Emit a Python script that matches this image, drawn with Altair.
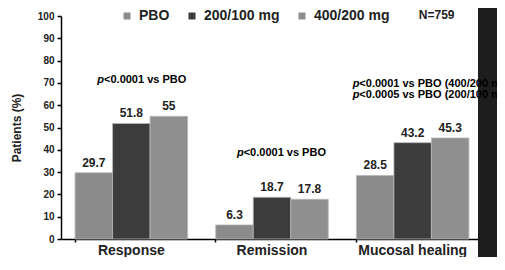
import altair as alt
import pandas as pd

categories = ["Response", "Remission", "Mucosal healing"]
groups = ["PBO", "200/100 mg", "400/200 mg"]
pbo = [29.7, 6.3, 28.5]
dose_200_100 = [51.8, 18.7, 43.2]
dose_400_200 = [55, 17.8, 45.3]
y_ticks = [0, 10, 20, 30, 40, 50, 60, 70, 80, 90, 100]
colors = ["#8b8b8b", "#3c3c3c", "#8f8f8f"]

ann_cat = ["Response", "Remission", "Mucosal healing", "Mucosal healing"]
ann_val = [71.3, 38.6, 69.7, 64.6]
ann_text = ["<0.0001 vs PBO", "<0.0001 vs PBO",
            "<0.0001 vs PBO (400/200 mg)", "<0.0005 vs PBO (200/100 mg)"]
ann_dx = [-34, -35, -60, -60]

rows = []
for i, c in enumerate(categories):
    for g, series in zip(groups, [pbo, dose_200_100, dose_400_200]):
        v = series[i]
        rows.append({"cat": c, "grp": g, "val": v, "label": f"{v:g}"})
df = pd.DataFrame(rows)

FONT = "Liberation Sans"

x_enc = alt.X("cat:N", sort=categories, title=None,
              scale=alt.Scale(paddingInner=0.2, paddingOuter=0.1))
y_enc = alt.Y("val:Q", title="Patients (%)",
              scale=alt.Scale(domain=[0, 100], nice=False),
              axis=alt.Axis(values=y_ticks))

base = alt.Chart(df).encode(
    x=x_enc,
    xOffset=alt.XOffset("grp:N", sort=groups),
    y=y_enc,
)

bars = base.mark_bar(stroke="#b8b8b8", strokeWidth=0.8).encode(
    color=alt.Color(
        "grp:N", sort=groups,
        scale=alt.Scale(domain=groups, range=colors),
        legend=alt.Legend(
            title=None, orient="none", direction="horizontal",
            legendX=59, legendY=-7, labelFontSize=14, labelFont=FONT,
            labelFontWeight="bold",
            labelColor="#222222", symbolType="square", symbolSize=49,
            symbolStrokeWidth=0, columnPadding=15, labelOffset=5, padding=0,
        ),
    )
)

labels = base.mark_text(baseline="bottom", dy=-3, fontSize=12,
                        fontWeight="bold", font=FONT, color="#222222").encode(
    text="label:N"
)

strip = alt.Chart(pd.DataFrame({"a": [0]})).mark_rect(color="#1d1d1d").encode(
    x=alt.value(417), x2=alt.value(444), y=alt.value(-16), y2=alt.value(260)
)

layers = [strip, bars, labels]
for c, v, t, dx in zip(ann_cat, ann_val, ann_text, ann_dx):
    adf = pd.DataFrame({"cat": [c], "val": [v], "t": [t], "p": ["p"]})
    abase = alt.Chart(adf).encode(x=x_enc, y=y_enc)
    layers.append(abase.mark_text(align="left", baseline="middle", dx=dx,
                                  fontSize=11, fontWeight="bold", fontStyle="italic",
                                  font=FONT, color="black").encode(text="p:N"))
    layers.append(abase.mark_text(align="left", baseline="middle", dx=dx + 6.7,
                                  fontSize=11, fontWeight="bold",
                                  font=FONT, color="black").encode(text="t:N"))

ndf = pd.DataFrame({"cat": ["Mucosal healing"], "val": [100], "t": ["N=759"]})
layers.append(alt.Chart(ndf).mark_text(align="center", baseline="middle", dx=24, dy=-1,
                                       fontSize=12, fontWeight="bold", font=FONT,
                                       color="#222222").encode(
    x=x_enc, y=y_enc, text="t:N"))

chart = alt.layer(*layers).properties(
    width=422, height=223, autosize="none",
    padding={"left": 53, "top": 8, "right": 14, "bottom": 18},
).configure(font=FONT).configure_view(stroke=None).configure_axis(
    grid=False, domainColor="black", tickColor="black", domainWidth=1.5,
    tickWidth=1.5, tickSize=4, labelColor="#222222", titleColor="#222222",
    labelFont=FONT, titleFont=FONT, zindex=1,
).configure_axisX(
    labelFontSize=14, labelFontWeight="bold", labelAngle=0, labelPadding=1,
    tickSize=3, bandPosition=0,
).configure_axisY(
    labelFontSize=10, labelFontWeight="bold", labelPadding=3,
    titleFontSize=12, titleFontWeight="bold", titlePadding=14,
)

chart.save("out.html", embed_options={"renderer": "svg", "actions": False})
